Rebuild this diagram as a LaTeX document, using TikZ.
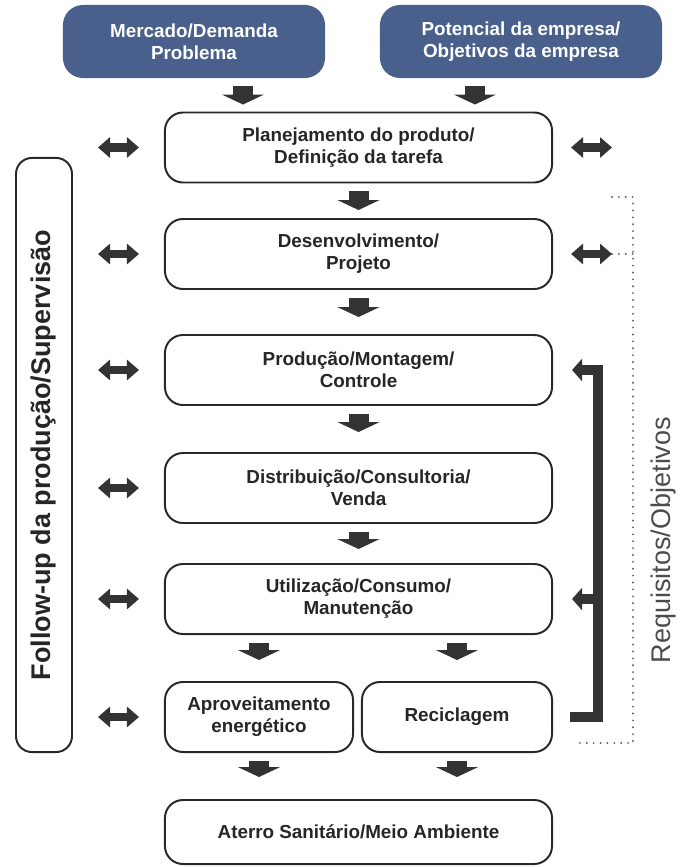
\documentclass[tikz,border=0pt]{standalone}
\usepackage{fontspec}
\setmainfont{Liberation Sans}
\usepackage{tikz}
\usetikzlibrary{arrows.meta, positioning, calc}
\definecolor{slateblue}{RGB}{73,95,140}
\definecolor{arrowgray}{RGB}{51,51,51}
\definecolor{edgegray}{RGB}{40,40,40}
\definecolor{dotgray}{RGB}{95,95,95}

\begin{document}
\begin{tikzpicture}[
    x=0.025cm, y=-0.025cm,
    box/.style={rectangle, draw=edgegray, line width=1.4pt, rounded corners=0.45cm, minimum width=9.675cm, minimum height=1.75cm, font=\fontsize{13.4}{15.5}\selectfont\bfseries, align=center, text=black!85},
    topbox/.style={rectangle, fill=slateblue, rounded corners=0.5cm, minimum height=1.825cm, font=\fontsize{13.4}{15.5}\selectfont\bfseries, align=center, text=white},
    sidebox/.style={rectangle, draw=edgegray, line width=1.4pt, rounded corners=0.4cm},
    downarrow/.style={arrowgray, line width=0.5cm, -{Triangle[width=1.05cm,length=0.25cm]}, shorten <=0.2cm},
    twoway/.style={arrowgray, line width=0.2cm, {Triangle[width=0.5cm,length=0.3cm]}-{Triangle[width=0.5cm,length=0.3cm]}},
    bar/.style={arrowgray, line width=0.25cm},
    dots/.style={dotgray, line width=1.5pt, line cap=round, dash pattern=on 0pt off 4.9pt}
]
    \useasboundingbox (0,0) rectangle (682,867);

    % Inputs at top
    \node[topbox, minimum width=6.55cm] (mercado) at (194,41.5) {Mercado/Demanda\\Problema};
    \node[topbox, minimum width=7.05cm] (potencial) at (521,41.5) {Potencial da empresa/\\Objetivos da empresa};

    % Main chain of phases
    \node[box] (plan) at (358.5,147.5) {Planejamento do produto/\\Definição da tarefa};
    \node[box] (dev) at (358.5,254) {Desenvolvimento/\\Projeto};
    \node[box] (prod) at (358.5,370) {Produção/Montagem/\\Controle};
    \node[box] (dist) at (358.5,488) {Distribuição/Consultoria/\\Venda};
    \node[box] (util) at (358.5,599) {Utilização/Consumo/\\Manutenção};
    \node[box, minimum width=4.7cm] (apro) at (259,717) {Aproveitamento\\energético};
    \node[box, minimum width=4.75cm] (recic) at (457,717) {Reciclagem};
    \node[box, minimum height=1.6cm] (aterro) at (358.5,832) {Aterro Sanitário/Meio Ambiente};

    % Side frames and their labels
    \node[sidebox, minimum width=1.4cm, minimum height=14.85cm] (follow) at (44,455) {};
    \node[rotate=90, font=\fontsize{19.2}{22}\selectfont\bfseries, text=black!85] (followtxt) at (follow) {Follow-up da produção/Supervisão};
    \node[rotate=90, font=\fontsize{19.2}{22}\selectfont, text=black!70] (req) at (664,540) {Requisitos/Objetivos};

    % Helper columns
    \coordinate (colL) at (243,0);
    \coordinate (colR) at (475,0);
    \coordinate (rEnd) at (612,0);
    \coordinate (dotCol) at (633,0);
    \coordinate (dotTop) at (612,197);
    \coordinate (dotEnd) at (575,743);
    \coordinate (barX) at (598,0);
    \coordinate (tipX) at (570,0);

    % Block arrows down
    \draw[downarrow, shorten >=0.175cm] (mercado.south -| colL) -- (plan.north -| colL);
    \draw[downarrow, shorten >=0.175cm] (potencial.south -| colR) -- (plan.north -| colR);
    \draw[downarrow, shorten >=0.2cm] (plan) -- (dev);
    \draw[downarrow, shorten >=0.425cm] (dev) -- (prod);
    \draw[downarrow, shorten >=0.5cm] (prod) -- (dist);
    \draw[downarrow, shorten >=0.35cm] (dist) -- (util);
    \draw[downarrow, shorten >=0.525cm] (util.south -| apro) -- (apro);
    \draw[downarrow, shorten >=0.525cm] (util.south -| recic) -- (recic);
    \draw[downarrow, shorten >=0.55cm] (apro) -- (apro |- aterro.north);
    \draw[downarrow, shorten >=0.55cm] (recic) -- (recic |- aterro.north);

    % Follow-up arrows on the left
    \foreach \n in {plan, dev, prod, dist, util, apro}
        \draw[twoway, shorten <=0.625cm, shorten >=0.625cm] (follow.east |- \n.west) -- (\n.west);

    % Arrows on the right
    \draw[twoway, shorten <=0.45cm] (plan.east) -- (plan.east -| rEnd);
    \draw[twoway, shorten <=0.45cm] (dev.east) -- (dev.east -| rEnd);

    % Dotted frame of requirements
    \draw[dots] (dotTop) -| (dotCol |- dotEnd) -- (dotEnd);
    \draw[dots] (dev.east -| rEnd) -- (dev.east -| dotCol);

    % Feedback bracket
    \draw[bar, {Triangle[width=0.55cm,length=0.25cm]}-, shorten <=0.475cm] (prod.east) -- (prod.east -| barX) |- (recic.east -| tipX);
    \draw[bar, -{Triangle[width=0.55cm,length=0.25cm]}, shorten >=0.475cm] (util.east -| barX) -- (util.east);
\end{tikzpicture}
\end{document}
